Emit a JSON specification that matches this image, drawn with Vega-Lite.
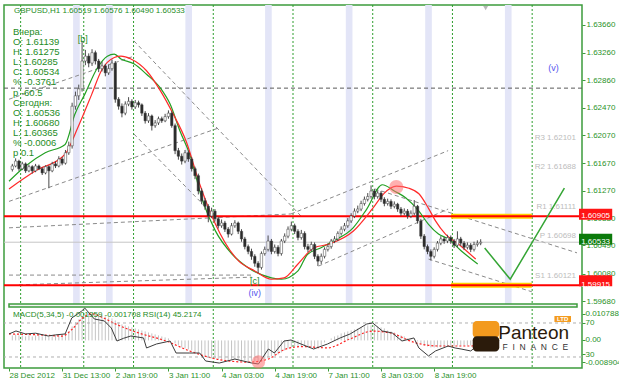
{
"$schema":"https://vega.github.io/schema/vega-lite/v6.json",
"padding":{"left":3,"top":4,"right":0,"bottom":0},
"background":"#ffffff",
"width":578,"height":363,
"datasets":{
"candles":[
{"i":1,"o":1.6158,"h":1.6166,"l":1.6155,"c":1.6163},{"i":2,"o":1.6163,"h":1.6174,"l":1.6161,"c":1.6170},{"i":3,"o":1.6170,"h":1.6172,"l":1.6156,"c":1.6159},{"i":4,"o":1.6159,"h":1.6169,"l":1.6157,"c":1.6166},{"i":5,"o":1.6166,"h":1.6168,"l":1.6153,"c":1.6156},{"i":6,"o":1.6156,"h":1.6165,"l":1.6154,"c":1.6162},{"i":7,"o":1.6162,"h":1.6164,"l":1.6152,"c":1.6156},{"i":8,"o":1.6156,"h":1.6166,"l":1.6154,"c":1.6163},{"i":9,"o":1.6163,"h":1.6165,"l":1.6157,"c":1.6159},{"i":10,"o":1.6159,"h":1.6161,"l":1.6150,"c":1.6153},
{"i":11,"o":1.6153,"h":1.6164,"l":1.6151,"c":1.6162},{"i":12,"o":1.6162,"h":1.6164,"l":1.6131,"c":1.6156},{"i":13,"o":1.6156,"h":1.6169,"l":1.6154,"c":1.6166},{"i":14,"o":1.6166,"h":1.6170,"l":1.6160,"c":1.6163},{"i":15,"o":1.6163,"h":1.6177,"l":1.6161,"c":1.6173},{"i":16,"o":1.6173,"h":1.6176,"l":1.6164,"c":1.6167},{"i":17,"o":1.6167,"h":1.6186,"l":1.6165,"c":1.6182},{"i":18,"o":1.6182,"h":1.6198,"l":1.6179,"c":1.6192},{"i":19,"o":1.6192,"h":1.6254,"l":1.6188,"c":1.6249},{"i":20,"o":1.6249,"h":1.6270,"l":1.6244,"c":1.6264},
{"i":21,"o":1.6264,"h":1.6280,"l":1.6258,"c":1.6274},{"i":22,"o":1.6274,"h":1.6343,"l":1.6270,"c":1.6314},{"i":23,"o":1.6314,"h":1.6330,"l":1.6308,"c":1.6321},{"i":24,"o":1.6321,"h":1.6325,"l":1.6305,"c":1.6311},{"i":25,"o":1.6311,"h":1.6331,"l":1.6307,"c":1.6326},{"i":26,"o":1.6326,"h":1.6329,"l":1.6309,"c":1.6314},{"i":27,"o":1.6314,"h":1.6317,"l":1.6298,"c":1.6303},{"i":28,"o":1.6303,"h":1.6313,"l":1.6299,"c":1.6307},{"i":29,"o":1.6307,"h":1.6310,"l":1.6292,"c":1.6297},{"i":30,"o":1.6297,"h":1.6309,"l":1.6294,"c":1.6303},
{"i":31,"o":1.6303,"h":1.6316,"l":1.6300,"c":1.6311},{"i":32,"o":1.6311,"h":1.6314,"l":1.6254,"c":1.6259},{"i":33,"o":1.6259,"h":1.6262,"l":1.6244,"c":1.6249},{"i":34,"o":1.6249,"h":1.6253,"l":1.6233,"c":1.6239},{"i":35,"o":1.6239,"h":1.6256,"l":1.6236,"c":1.6252},{"i":36,"o":1.6252,"h":1.6262,"l":1.6249,"c":1.6256},{"i":37,"o":1.6256,"h":1.6259,"l":1.6244,"c":1.6248},{"i":38,"o":1.6248,"h":1.6258,"l":1.6245,"c":1.6254},{"i":39,"o":1.6254,"h":1.6257,"l":1.6247,"c":1.6251},{"i":40,"o":1.6251,"h":1.6253,"l":1.6235,"c":1.6239},
{"i":41,"o":1.6239,"h":1.6242,"l":1.6224,"c":1.6228},{"i":42,"o":1.6228,"h":1.6239,"l":1.6225,"c":1.6235},{"i":43,"o":1.6235,"h":1.6237,"l":1.6214,"c":1.6221},{"i":44,"o":1.6221,"h":1.6229,"l":1.6218,"c":1.6225},{"i":45,"o":1.6225,"h":1.6234,"l":1.6222,"c":1.6231},{"i":46,"o":1.6231,"h":1.6234,"l":1.6225,"c":1.6228},{"i":47,"o":1.6228,"h":1.6238,"l":1.6226,"c":1.6234},{"i":48,"o":1.6234,"h":1.6243,"l":1.6231,"c":1.6239},{"i":49,"o":1.6239,"h":1.6242,"l":1.6218,"c":1.6221},{"i":50,"o":1.6221,"h":1.6224,"l":1.6180,"c":1.6185},
{"i":51,"o":1.6185,"h":1.6189,"l":1.6172,"c":1.6177},{"i":52,"o":1.6177,"h":1.6181,"l":1.6165,"c":1.6170},{"i":53,"o":1.6170,"h":1.6186,"l":1.6167,"c":1.6182},{"i":54,"o":1.6182,"h":1.6185,"l":1.6169,"c":1.6173},{"i":55,"o":1.6173,"h":1.6176,"l":1.6155,"c":1.6159},{"i":56,"o":1.6159,"h":1.6162,"l":1.6144,"c":1.6149},{"i":57,"o":1.6149,"h":1.6152,"l":1.6122,"c":1.6127},{"i":58,"o":1.6127,"h":1.6131,"l":1.6108,"c":1.6113},{"i":59,"o":1.6113,"h":1.6117,"l":1.6100,"c":1.6105},{"i":60,"o":1.6105,"h":1.6108,"l":1.6082,"c":1.6091},
{"i":61,"o":1.6091,"h":1.6103,"l":1.6088,"c":1.6098},{"i":62,"o":1.6098,"h":1.6101,"l":1.6083,"c":1.6087},{"i":63,"o":1.6087,"h":1.6090,"l":1.6073,"c":1.6077},{"i":64,"o":1.6077,"h":1.6086,"l":1.6074,"c":1.6081},{"i":65,"o":1.6081,"h":1.6084,"l":1.6068,"c":1.6072},{"i":66,"o":1.6072,"h":1.6075,"l":1.6060,"c":1.6065},{"i":67,"o":1.6065,"h":1.6081,"l":1.6063,"c":1.6077},{"i":68,"o":1.6077,"h":1.6085,"l":1.6074,"c":1.6081},{"i":69,"o":1.6081,"h":1.6083,"l":1.6065,"c":1.6069},{"i":70,"o":1.6069,"h":1.6072,"l":1.6054,"c":1.6058},
{"i":71,"o":1.6058,"h":1.6061,"l":1.6043,"c":1.6047},{"i":72,"o":1.6047,"h":1.6050,"l":1.6036,"c":1.6040},{"i":73,"o":1.6040,"h":1.6044,"l":1.6028,"c":1.6033},{"i":74,"o":1.6033,"h":1.6036,"l":1.6018,"c":1.6023},{"i":75,"o":1.6023,"h":1.6026,"l":1.6009,"c":1.6017},{"i":76,"o":1.6017,"h":1.6040,"l":1.6014,"c":1.6037},{"i":77,"o":1.6037,"h":1.6047,"l":1.6034,"c":1.6043},{"i":78,"o":1.6043,"h":1.6063,"l":1.6040,"c":1.6055},{"i":79,"o":1.6055,"h":1.6058,"l":1.6036,"c":1.6040},{"i":80,"o":1.6040,"h":1.6050,"l":1.6037,"c":1.6046},
{"i":81,"o":1.6046,"h":1.6049,"l":1.6033,"c":1.6037},{"i":82,"o":1.6037,"h":1.6058,"l":1.6034,"c":1.6055},{"i":83,"o":1.6055,"h":1.6066,"l":1.6052,"c":1.6062},{"i":84,"o":1.6062,"h":1.6076,"l":1.6059,"c":1.6072},{"i":85,"o":1.6072,"h":1.6083,"l":1.6069,"c":1.6077},{"i":86,"o":1.6077,"h":1.6080,"l":1.6065,"c":1.6069},{"i":87,"o":1.6069,"h":1.6072,"l":1.6056,"c":1.6060},{"i":88,"o":1.6060,"h":1.6071,"l":1.6057,"c":1.6066},{"i":89,"o":1.6066,"h":1.6069,"l":1.6043,"c":1.6047},{"i":90,"o":1.6047,"h":1.6051,"l":1.6039,"c":1.6043},
{"i":91,"o":1.6043,"h":1.6054,"l":1.6040,"c":1.6050},{"i":92,"o":1.6050,"h":1.6053,"l":1.6029,"c":1.6033},{"i":93,"o":1.6033,"h":1.6036,"l":1.6019,"c":1.6026},{"i":94,"o":1.6026,"h":1.6037,"l":1.6022,"c":1.6033},{"i":95,"o":1.6033,"h":1.6046,"l":1.6030,"c":1.6043},{"i":96,"o":1.6043,"h":1.6051,"l":1.6040,"c":1.6047},{"i":97,"o":1.6047,"h":1.6058,"l":1.6044,"c":1.6055},{"i":98,"o":1.6055,"h":1.6062,"l":1.6052,"c":1.6058},{"i":99,"o":1.6058,"h":1.6069,"l":1.6055,"c":1.6066},{"i":100,"o":1.6066,"h":1.6076,"l":1.6063,"c":1.6072},
{"i":101,"o":1.6072,"h":1.6081,"l":1.6069,"c":1.6077},{"i":102,"o":1.6077,"h":1.6088,"l":1.6074,"c":1.6084},{"i":103,"o":1.6084,"h":1.6095,"l":1.6081,"c":1.6091},{"i":104,"o":1.6091,"h":1.6102,"l":1.6088,"c":1.6098},{"i":105,"o":1.6098,"h":1.6106,"l":1.6095,"c":1.6101},{"i":106,"o":1.6101,"h":1.6113,"l":1.6098,"c":1.6109},{"i":107,"o":1.6109,"h":1.6119,"l":1.6106,"c":1.6115},{"i":108,"o":1.6115,"h":1.6124,"l":1.6112,"c":1.6119},{"i":109,"o":1.6119,"h":1.6135,"l":1.6116,"c":1.6127},{"i":110,"o":1.6127,"h":1.6130,"l":1.6115,"c":1.6119},
{"i":111,"o":1.6119,"h":1.6128,"l":1.6116,"c":1.6124},{"i":112,"o":1.6124,"h":1.6127,"l":1.6111,"c":1.6115},{"i":113,"o":1.6115,"h":1.6118,"l":1.6105,"c":1.6109},{"i":114,"o":1.6109,"h":1.6116,"l":1.6106,"c":1.6112},{"i":115,"o":1.6112,"h":1.6115,"l":1.6101,"c":1.6105},{"i":116,"o":1.6105,"h":1.6112,"l":1.6102,"c":1.6108},{"i":117,"o":1.6108,"h":1.6110,"l":1.6097,"c":1.6101},{"i":118,"o":1.6101,"h":1.6104,"l":1.6091,"c":1.6095},{"i":119,"o":1.6095,"h":1.6102,"l":1.6092,"c":1.6098},{"i":120,"o":1.6098,"h":1.6101,"l":1.6087,"c":1.6091},
{"i":121,"o":1.6091,"h":1.6099,"l":1.6088,"c":1.6095},{"i":122,"o":1.6095,"h":1.6114,"l":1.6092,"c":1.6105},{"i":123,"o":1.6105,"h":1.6107,"l":1.6080,"c":1.6084},{"i":124,"o":1.6084,"h":1.6087,"l":1.6058,"c":1.6062},{"i":125,"o":1.6062,"h":1.6065,"l":1.6043,"c":1.6047},{"i":126,"o":1.6047,"h":1.6050,"l":1.6036,"c":1.6040},{"i":127,"o":1.6040,"h":1.6043,"l":1.6027,"c":1.6033},{"i":128,"o":1.6033,"h":1.6046,"l":1.6030,"c":1.6043},{"i":129,"o":1.6043,"h":1.6055,"l":1.6040,"c":1.6052},{"i":130,"o":1.6052,"h":1.6062,"l":1.6049,"c":1.6058},
{"i":131,"o":1.6058,"h":1.6061,"l":1.6051,"c":1.6055},{"i":132,"o":1.6055,"h":1.6064,"l":1.6052,"c":1.6060},{"i":133,"o":1.6060,"h":1.6063,"l":1.6051,"c":1.6055},{"i":134,"o":1.6055,"h":1.6058,"l":1.6045,"c":1.6049},{"i":135,"o":1.6049,"h":1.6069,"l":1.6046,"c":1.6058},{"i":136,"o":1.6058,"h":1.6061,"l":1.6048,"c":1.6052},{"i":137,"o":1.6052,"h":1.6055,"l":1.6042,"c":1.6046},{"i":138,"o":1.6046,"h":1.6053,"l":1.6043,"c":1.6049},{"i":139,"o":1.6049,"h":1.6052,"l":1.6039,"c":1.6043},{"i":140,"o":1.6043,"h":1.6054,"l":1.6040,"c":1.6050},
{"i":141,"o":1.6050,"h":1.6056,"l":1.6047,"c":1.6052},{"i":142,"o":1.60519,"h":1.60576,"l":1.60490,"c":1.60533}
],
"ma":[
{"s":"f","i":0,"p":1.6141},{"s":"f","i":5,"p":1.6163},{"s":"f","i":10.9,"p":1.6182},{"s":"f","i":16.9,"p":1.6194},{"s":"f","i":19.8,"p":1.6237},{"s":"f","i":22.8,"p":1.6266},{"s":"f","i":26.6,"p":1.6304},{"s":"f","i":29.6,"p":1.6321},{"s":"f","i":31.7,"p":1.6324},{"s":"f","i":33.7,"p":1.6317},{"s":"f","i":37.6,"p":1.6310},{"s":"f","i":41.4,"p":1.6295},{"s":"f","i":45.6,"p":1.6275},{"s":"f","i":48.5,"p":1.6252},{"s":"f","i":51.5,"p":1.6213},{"s":"f","i":54.4,"p":1.6180},{"s":"f","i":58.3,"p":1.6113},{"s":"f","i":62.1,"p":1.6070},{"s":"f","i":67.2,"p":1.6036},{"s":"f","i":72.2,"p":1.6016},{"s":"f","i":79,"p":1.6002},{"s":"f","i":82,"p":1.6000},{"s":"f","i":87,"p":1.6012},{"s":"f","i":89.9,"p":1.6036},{"s":"f","i":93.8,"p":1.6045},{"s":"f","i":97.6,"p":1.6055},{"s":"f","i":103.6,"p":1.6074},{"s":"f","i":107.7,"p":1.6101},{"s":"f","i":112.4,"p":1.6136},{"s":"f","i":116,"p":1.6127},{"s":"f","i":119.5,"p":1.6117},{"s":"f","i":123.4,"p":1.6098},{"s":"f","i":126.3,"p":1.6079},{"s":"f","i":129.3,"p":1.6065},{"s":"f","i":132.2,"p":1.6058},{"s":"f","i":136.1,"p":1.6041},{"s":"f","i":141.1,"p":1.6022},
{"s":"s","i":0,"p":1.6130},{"s":"s","i":8,"p":1.6156},{"s":"s","i":16.9,"p":1.6180},{"s":"s","i":20.7,"p":1.6218},{"s":"s","i":24.9,"p":1.6266},{"s":"s","i":27.8,"p":1.6300},{"s":"s","i":31.7,"p":1.6319},{"s":"s","i":33.7,"p":1.6321},{"s":"s","i":36.7,"p":1.6317},{"s":"s","i":41.4,"p":1.6300},{"s":"s","i":45.6,"p":1.6271},{"s":"s","i":49.4,"p":1.6238},{"s":"s","i":53.3,"p":1.6199},{"s":"s","i":57.4,"p":1.6137},{"s":"s","i":62.1,"p":1.6080},{"s":"s","i":69.2,"p":1.6026},{"s":"s","i":74,"p":1.6012},{"s":"s","i":79,"p":1.6000},{"s":"s","i":82.8,"p":1.6002},{"s":"s","i":87,"p":1.6022},{"s":"s","i":91.7,"p":1.6045},{"s":"s","i":96.7,"p":1.6051},{"s":"s","i":103.6,"p":1.6069},{"s":"s","i":109.5,"p":1.6102},{"s":"s","i":113,"p":1.6124},{"s":"s","i":116.6,"p":1.6134},{"s":"s","i":120.4,"p":1.6131},{"s":"s","i":123.4,"p":1.6123},{"s":"s","i":126.3,"p":1.6102},{"s":"s","i":128.4,"p":1.6084},{"s":"s","i":131.4,"p":1.6065},{"s":"s","i":135.2,"p":1.6051},{"s":"s","i":140.5,"p":1.6029}
],
"trend":[
{"id":1,"i":0,"p":1.6259},{"id":1,"i":37.6,"p":1.6321},
{"id":2,"i":37.6,"p":1.6343},{"id":2,"i":87.9,"p":1.6091},
{"id":3,"i":0,"p":1.6112},{"id":3,"i":62.7,"p":1.6217},
{"id":4,"i":37.6,"p":1.6209},{"id":4,"i":67.2,"p":1.6065},
{"id":5,"i":0,"p":1.6006},{"id":5,"i":73,"p":1.6006},
{"id":6,"i":3,"p":1.5992},{"id":6,"i":73,"p":1.6003},
{"id":7,"i":0,"p":1.6074},{"id":7,"i":84.9,"p":1.6094},
{"id":8,"i":84.9,"p":1.6094},{"id":8,"i":132.2,"p":1.6185},
{"id":9,"i":93.2,"p":1.6019},{"id":9,"i":132.2,"p":1.6101},
{"id":10,"i":110.1,"p":1.6130},{"id":10,"i":171,"p":1.6038},
{"id":11,"i":126.3,"p":1.6029},{"id":11,"i":157.4,"p":1.5982}
],
"proj":[{"i":143.2,"p":1.6045},{"i":150.9,"p":1.6000},{"i":167.2,"p":1.6131}],
"grid":[{"i":3.5},{"i":22.5},{"i":37.5},{"i":61.5},{"i":85.5},{"i":109.5},{"i":133.5},{"i":157.5}],
"bands":[{"a":19.3,"b":21.3},{"a":29.2,"b":31.2},{"a":53.1,"b":55.1},{"a":77.1,"b":79.1},{"a":101.4,"b":103.4},{"a":125.3,"b":127.3},{"a":149.3,"b":151.3}],
"levels":[{"p":1.60905},{"p":1.59915}],
"pivots":[{"t":"R3 1.62101","p":1.62101},{"t":"R2 1.61688","p":1.61688},{"t":"R1 1.61111","p":1.61111},{"t":"P 1.60698","p":1.60698},{"t":"S1 1.60121","p":1.60121}],
"waves":[{"t":"[b]","i":22.2,"p":1.6346,"k":"g"},{"t":"[c]","i":74,"p":1.5998,"k":"g"},{"t":"(iv)","i":74,"p":1.5980,"k":"b"},{"t":"(v)","i":163.9,"p":1.6304,"k":"b"}],
"tags":[{"p":1.60905,"t":"1.60905","k":"r"},{"p":1.60533,"t":"1.60533","k":"g"},{"p":1.59915,"t":"1.59915","k":"r"}],
"macd":[
{"i":1,"m":0.00162},{"i":2,"m":0.00194},{"i":3,"m":0.00162},{"i":4,"m":0.00162},{"i":5,"m":0.00129},{"i":6,"m":0.00162},{"i":7,"m":0.00129},{"i":8,"m":0.00162},{"i":9,"m":0.00162},{"i":10,"m":0.00129},
{"i":11,"m":0.00162},{"i":12,"m":0.00129},{"i":13,"m":0.00162},{"i":14,"m":0.00162},{"i":15,"m":0.00194},{"i":16,"m":0.00194},{"i":17,"m":0.00226},{"i":18,"m":0.00291},{"i":19,"m":0.00452},{"i":20,"m":0.00581},
{"i":21,"m":0.00678},{"i":22,"m":0.00775},{"i":23,"m":0.0084},{"i":24,"m":0.00872},{"i":25,"m":0.00872},{"i":26,"m":0.00872},{"i":27,"m":0.0084},{"i":28,"m":0.00808},{"i":29,"m":0.00775},{"i":30,"m":0.00743},
{"i":31,"m":0.00711},{"i":32,"m":0.00646},{"i":33,"m":0.00581},{"i":34,"m":0.00517},{"i":35,"m":0.00485},{"i":36,"m":0.00452},{"i":37,"m":0.0042},{"i":38,"m":0.00388},{"i":39,"m":0.00355},{"i":40,"m":0.00323},
{"i":41,"m":0.00291},{"i":42,"m":0.00258},{"i":43,"m":0.00226},{"i":44,"m":0.00194},{"i":45,"m":0.00162},{"i":46,"m":0.00129},{"i":47,"m":0.00097},{"i":48,"m":0.00065},{"i":49,"m":0.0},{"i":50,"m":-0.00097},
{"i":51,"m":-0.00162},{"i":52,"m":-0.00226},{"i":53,"m":-0.00258},{"i":54,"m":-0.00291},{"i":55,"m":-0.00323},{"i":56,"m":-0.00388},{"i":57,"m":-0.0042},{"i":58,"m":-0.00485},{"i":59,"m":-0.00517},{"i":60,"m":-0.00549},
{"i":61,"m":-0.00581},{"i":62,"m":-0.00581},{"i":63,"m":-0.00614},{"i":64,"m":-0.00614},{"i":65,"m":-0.00614},{"i":66,"m":-0.00646},{"i":67,"m":-0.00614},{"i":68,"m":-0.00614},{"i":69,"m":-0.00614},{"i":70,"m":-0.00646},
{"i":71,"m":-0.00646},{"i":72,"m":-0.00678},{"i":73,"m":-0.00678},{"i":74,"m":-0.00678},{"i":75,"m":-0.00678},{"i":76,"m":-0.00646},{"i":77,"m":-0.00614},{"i":78,"m":-0.00549},{"i":79,"m":-0.00517},{"i":80,"m":-0.00485},
{"i":81,"m":-0.00452},{"i":82,"m":-0.00388},{"i":83,"m":-0.00323},{"i":84,"m":-0.00258},{"i":85,"m":-0.00226},{"i":86,"m":-0.00194},{"i":87,"m":-0.00194},{"i":88,"m":-0.00194},{"i":89,"m":-0.00194},{"i":90,"m":-0.00226},
{"i":91,"m":-0.00226},{"i":92,"m":-0.00226},{"i":93,"m":-0.00226},{"i":94,"m":-0.00162},{"i":95,"m":-0.00065},{"i":96,"m":0.0},{"i":97,"m":0.00065},{"i":98,"m":0.00129},{"i":99,"m":0.00162},{"i":100,"m":0.00226},
{"i":101,"m":0.00258},{"i":102,"m":0.00291},{"i":103,"m":0.00323},{"i":104,"m":0.00355},{"i":105,"m":0.00388},{"i":106,"m":0.0042},{"i":107,"m":0.00452},{"i":108,"m":0.00485},{"i":109,"m":0.00485},{"i":110,"m":0.00485},
{"i":111,"m":0.00452},{"i":112,"m":0.0042},{"i":113,"m":0.00388},{"i":114,"m":0.00323},{"i":115,"m":0.00291},{"i":116,"m":0.00258},{"i":117,"m":0.00194},{"i":118,"m":0.00162},{"i":119,"m":0.00129},{"i":120,"m":0.00065},
{"i":121,"m":0.00032},{"i":122,"m":0.0},{"i":123,"m":-0.00032},{"i":124,"m":-0.00097},{"i":125,"m":-0.00162},{"i":126,"m":-0.00194},{"i":127,"m":-0.00226},{"i":128,"m":-0.00226},{"i":129,"m":-0.00226},{"i":130,"m":-0.00226},
{"i":131,"m":-0.00194},{"i":132,"m":-0.00194},{"i":133,"m":-0.00194},{"i":134,"m":-0.00194},{"i":135,"m":-0.00162},{"i":136,"m":-0.00162},{"i":137,"m":-0.00162},{"i":138,"m":-0.00162},{"i":139,"m":-0.00162},{"i":140,"m":-0.00162},
{"i":141,"m":-0.00129},{"i":142,"m":-0.001359}
],
"signal":[{"i":0,"s":0.0021},{"i":10.9,"s":0.0017},{"i":16,"s":0.0014},{"i":18.9,"s":0.0035},{"i":21.9,"s":0.0070},{"i":24.9,"s":0.0086},{"i":28,"s":0.0075},{"i":31.7,"s":0.0055},{"i":38.5,"s":0.0026},{"i":47.3,"s":-0.0002},{"i":54.4,"s":-0.0034},{"i":63.3,"s":-0.0062},{"i":72.2,"s":-0.0070},{"i":78.1,"s":-0.0060},{"i":82.8,"s":-0.0030},{"i":87.9,"s":-0.0020},{"i":95.9,"s":-0.0024},{"i":102.7,"s":0.0005},{"i":109.5,"s":0.0030},{"i":114.5,"s":0.0025},{"i":122.5,"s":-0.0008},{"i":129.3,"s":-0.0018},{"i":139,"s":-0.0018},{"i":141.7,"s":-0.0017}],
"rsi":[{"i":0,"r":57.1},{"i":2.1,"r":60.6},{"i":5,"r":57.1},{"i":8,"r":58},{"i":11.8,"r":54.7},{"i":14,"r":56},{"i":16.9,"r":57.1},{"i":18.9,"r":75.9},{"i":21.9,"r":84.1},{"i":22.8,"r":87.6},{"i":25.7,"r":74.7},{"i":28.7,"r":72.4},{"i":30.8,"r":64.1},{"i":32.5,"r":48.8},{"i":34.5,"r":52},{"i":36.7,"r":54.7},{"i":40.5,"r":52.4},{"i":41.4,"r":40.6},{"i":44.4,"r":45.3},{"i":48.5,"r":48.8},{"i":50.3,"r":34.7},{"i":54.4,"r":34.7},{"i":57.4,"r":34.7},{"i":59.2,"r":25.3},{"i":63.3,"r":22.9},{"i":68,"r":27.6},{"i":73.1,"r":22.9},{"i":75.1,"r":21.8},{"i":78.1,"r":39.4},{"i":79.9,"r":34.7},{"i":82.8,"r":48.8},{"i":84.9,"r":50},{"i":87.9,"r":45.3},{"i":91.7,"r":39.4},{"i":95.9,"r":45.3},{"i":99.7,"r":52.4},{"i":102.7,"r":57.1},{"i":107.7,"r":68.8},{"i":109.5,"r":70},{"i":112.4,"r":60.6},{"i":115.4,"r":58.2},{"i":118.3,"r":48.8},{"i":121.9,"r":52.4},{"i":123.4,"r":40.6},{"i":126.3,"r":31.2},{"i":128.4,"r":37.1},{"i":132.2,"r":42.9},{"i":134.3,"r":40.6},{"i":136.1,"r":39.4},{"i":139,"r":37.1},{"i":141.7,"r":45.2}],
"rsilev":[{"v":70},{"v":30}]
},
"resolve":{"scale":{"y":"independent"}},
"layer":[
{"data":{"name":"bands"},"mark":{"type":"rect","color":"#e3e5f7"},"encoding":{"x":{"field":"a","type":"quantitative","title":null,"scale":{"domain":[0,171]}},"x2":{"field":"b"},"y":{"datum":1.63946,"type":"quantitative","scale":{"domain":[1.59644,1.63946],"range":[299,0]},"axis":null},"y2":{"datum":1.59644}}},
{"data":{"name":"grid"},"mark":{"type":"rule","color":"#2e9e2e","strokeDash":[2,2],"strokeWidth":1},"encoding":{"x":{"field":"i","type":"quantitative","title":null,"scale":{"domain":[0,171]},"axis":{"title":null,"values":[0,16,32,48,64,80,96,112,128],"labelExpr":"['28 Dec 2012','31 Dec 13:00','2 Jan 19:00','3 Jan 11:00','4 Jan 03:00','4 Jan 19:00','7 Jan 11:00','8 Jan 03:00','8 Jan 19:00'][round(datum.value/16)]","labelAlign":"left","labelFlush":false,"labelOverlap":false,"tickSize":3,"labelPadding":0,"domain":false,"grid":false,"labelColor":"#2a922a","tickColor":"#3c9c3c","labelFontSize":8}}}},
{"data":{"values":[{}]},"mark":{"type":"rule","color":"#5a5a5a","strokeDash":[4,3],"strokeWidth":1},"encoding":{"y":{"datum":1.6275,"type":"quantitative","scale":{"domain":[1.59644,1.63946],"range":[299,0]},"axis":null}}},
{"data":{"name":"trend"},"mark":{"type":"line","color":"#8a8a8a","strokeDash":[4,3],"strokeWidth":1},"encoding":{"x":{"field":"i","type":"quantitative","title":null,"scale":{"domain":[0,171]}},"y":{"field":"p","type":"quantitative","scale":{"domain":[1.59644,1.63946],"range":[299,0]},"axis":null},"detail":{"field":"id","type":"nominal"}}},
{"data":{"values":[{}]},"mark":{"type":"rule","color":"#c6c6c6","strokeWidth":1},"encoding":{"y":{"datum":1.60533,"type":"quantitative","scale":{"domain":[1.59644,1.63946],"range":[299,0]},"axis":null}}},
{"data":{"name":"levels"},"mark":{"type":"rule","color":"#ffd200","strokeWidth":5},"encoding":{"x":{"datum":133.1,"type":"quantitative","title":null,"scale":{"domain":[0,171]}},"x2":{"datum":157.4},"y":{"field":"p","type":"quantitative","scale":{"domain":[1.59644,1.63946],"range":[299,0]},"axis":null}}},
{"data":{"name":"levels"},"mark":{"type":"rule","color":"#ff0000","strokeWidth":2},"encoding":{"y":{"field":"p","type":"quantitative","scale":{"domain":[1.59644,1.63946],"range":[299,0]},"axis":null}}},
{"data":{"name":"pivots"},"mark":{"type":"text","align":"right","baseline":"top","fontSize":8,"color":"#bdbdbd","dy":1},"encoding":{"x":{"datum":170.7,"type":"quantitative","title":null,"scale":{"domain":[0,171]}},"y":{"field":"p","type":"quantitative","scale":{"domain":[1.59644,1.63946],"range":[299,0]},"axis":null},"text":{"field":"t"}}},
{"data":{"name":"ma"},"mark":{"type":"line","strokeWidth":1.2,"interpolate":"monotone"},"encoding":{"x":{"field":"i","type":"quantitative","title":null,"scale":{"domain":[0,171]}},"y":{"field":"p","type":"quantitative","scale":{"domain":[1.59644,1.63946],"range":[299,0]},"axis":null},"color":{"field":"s","type":"nominal","scale":{"domain":["f","s"],"range":["#22a022","#ff2a2a"]},"legend":null}}},
{"data":{"name":"candles"},"mark":{"type":"rule","color":"#4a4a4a","strokeWidth":1},"encoding":{"x":{"field":"i","type":"quantitative","title":null,"scale":{"domain":[0,171]}},"y":{"field":"l","type":"quantitative","scale":{"domain":[1.59644,1.63946],"range":[299,0]},"axis":{"orient":"right","title":null,"values":[1.6366,1.6326,1.6286,1.6247,1.6207,1.6167,1.6127,1.6088,1.6049,1.6008,1.5968],"format":".5f","tickSize":3,"labelPadding":1,"labelColor":"#2a922a","tickColor":"#3c9c3c","domain":false,"grid":false,"labelFontSize":8,"labelOverlap":false,"zindex":0}},"y2":{"field":"h"}}},
{"data":{"name":"candles"},"mark":{"type":"bar","size":2.4,"stroke":"#3a3a3a","strokeWidth":0.5},"encoding":{"x":{"field":"i","type":"quantitative","title":null,"scale":{"domain":[0,171]}},"y":{"field":"o","type":"quantitative","scale":{"domain":[1.59644,1.63946],"range":[299,0]},"axis":null},"y2":{"field":"c"},"fill":{"condition":{"test":"datum.c >= datum.o","value":"#ffffff"},"value":"#2b2b2b"}}},
{"data":{"values":[{}]},"mark":{"type":"point","filled":true,"size":200,"color":"#ff7070","opacity":0.55},"encoding":{"x":{"datum":116.6,"type":"quantitative","title":null,"scale":{"domain":[0,171]}},"y":{"datum":1.61328,"type":"quantitative","scale":{"domain":[1.59644,1.63946],"range":[299,0]},"axis":null}}},
{"data":{"name":"proj"},"mark":{"type":"line","color":"#35a535","strokeWidth":1.5},"encoding":{"x":{"field":"i","type":"quantitative","title":null,"scale":{"domain":[0,171]}},"y":{"field":"p","type":"quantitative","scale":{"domain":[1.59644,1.63946],"range":[299,0]},"axis":null}}},
{"data":{"name":"waves"},"mark":{"type":"text","fontSize":9,"align":"center","baseline":"middle"},"encoding":{"x":{"field":"i","type":"quantitative","title":null,"scale":{"domain":[0,171]}},"y":{"field":"p","type":"quantitative","scale":{"domain":[1.59644,1.63946],"range":[299,0]},"axis":null},"text":{"field":"t"},"color":{"condition":{"test":"datum.k == 'b'","value":"#5555ee"},"value":"#1e8c1e"}}},
{"data":{"values":[{}]},"mark":{"type":"text","text":"GBPUSD,H1  1.60519 1.60576 1.60490 1.60533","align":"left","baseline":"middle","fontSize":8,"color":"#1e8c1e"},"encoding":{"x":{"datum":1.5,"type":"quantitative","title":null,"scale":{"domain":[0,171]}},"y":{"datum":1.63853,"type":"quantitative","scale":{"domain":[1.59644,1.63946],"range":[299,0]},"axis":null}}},
{"data":{"values":[{}]},"mark":{"type":"text","text":["Вчера:","O: 1.61139","H: 1.61275","L: 1.60285","C: 1.60534","% -0.3761","p -60.5"," ","Сегодня:","O: 1.60536","H: 1.60680","L: 1.60365","% -0.0006","p 0.1"],"lineHeight":10.1,"align":"left","baseline":"top","fontSize":9.5,"color":"#1e8c1e"},"encoding":{"x":{"datum":1.2,"type":"quantitative","title":null,"scale":{"domain":[0,171]}},"y":{"datum":1.63630,"type":"quantitative","scale":{"domain":[1.59644,1.63946],"range":[299,0]},"axis":null}}},
{"data":{"name":"tags"},"mark":{"type":"bar","size":11},"encoding":{"x":{"datum":171.6,"type":"quantitative","title":null,"scale":{"domain":[0,171]}},"x2":{"datum":181.6},"y":{"field":"p","type":"quantitative","scale":{"domain":[1.59644,1.63946],"range":[299,0]},"axis":null},"color":{"condition":{"test":"datum.k == 'g'","value":"#0b7a0b"},"value":"#ff1414"}}},
{"data":{"name":"tags"},"mark":{"type":"text","color":"#ffffff","fontSize":8,"align":"center","baseline":"middle"},"encoding":{"x":{"datum":176.6,"type":"quantitative","title":null,"scale":{"domain":[0,171]}},"y":{"field":"p","type":"quantitative","scale":{"domain":[1.59644,1.63946],"range":[299,0]},"axis":null},"text":{"field":"t"}}},
{"data":{"values":[{}]},"mark":{"type":"point","shape":"triangle-down","filled":true,"size":24,"color":"#9a9a9a"},"encoding":{"x":{"datum":143.5,"type":"quantitative","title":null,"scale":{"domain":[0,171]}},"y":{"datum":1.63900,"type":"quantitative","scale":{"domain":[1.59644,1.63946],"range":[299,0]},"axis":null}}},
{"data":{"values":[{}]},"mark":{"type":"rect","fill":"#f4f4f4","stroke":"#3c9c3c","strokeWidth":1.5},"encoding":{"x":{"datum":0,"type":"quantitative","title":null,"scale":{"domain":[0,171]}},"x2":{"datum":171},"y":{"datum":1.59644,"type":"quantitative","scale":{"domain":[1.59644,1.63946],"range":[299,0]},"axis":null},"y2":{"datum":1.59601}}},
{"data":{"name":"macd"},"mark":{"type":"rule","color":"#c4c4c4","strokeWidth":1},"encoding":{"x":{"field":"i","type":"quantitative","title":null,"scale":{"domain":[0,171]}},"y":{"field":"m","type":"quantitative","scale":{"domain":[-0.008904,0.010788],"range":[363,302]},"axis":null},"y2":{"datum":0}}},
{"data":{"name":"signal"},"mark":{"type":"line","color":"#ff2020","strokeDash":[2,2],"strokeWidth":1.2,"interpolate":"monotone"},"encoding":{"x":{"field":"i","type":"quantitative","title":null,"scale":{"domain":[0,171]}},"y":{"field":"s","type":"quantitative","scale":{"domain":[-0.008904,0.010788],"range":[363,302]},"axis":null}}},
{"data":{"name":"rsilev"},"mark":{"type":"rule","color":"#b0b0b0","strokeDash":[3,3],"strokeWidth":1},"encoding":{"y":{"field":"v","type":"quantitative","scale":{"domain":[17.06,88.8],"range":[363,302]},"axis":null}}},
{"data":{"name":"rsi"},"mark":{"type":"line","color":"#3c3c3c","strokeWidth":1},"encoding":{"x":{"field":"i","type":"quantitative","title":null,"scale":{"domain":[0,171]}},"y":{"field":"r","type":"quantitative","scale":{"domain":[17.06,88.8],"range":[363,302]},"axis":{"orient":"right","title":null,"values":[80.6,70,50,33.5,24.1],"labelExpr":"datum.value > 80 ? '0.010788' : datum.value == 70 ? '70' : datum.value == 50 ? '0.00' : datum.value > 30 ? '30' : '-0.008904'","tickSize":3,"labelPadding":0,"labelColor":"#2a922a","tickColor":"#3c9c3c","domain":false,"grid":false,"labelFontSize":8,"labelOverlap":false}}}},
{"data":{"values":[{}]},"mark":{"type":"point","filled":true,"size":180,"color":"#ff7070","opacity":0.55},"encoding":{"x":{"datum":75.1,"type":"quantitative","title":null,"scale":{"domain":[0,171]}},"y":{"datum":24.1,"type":"quantitative","scale":{"domain":[17.06,88.8],"range":[363,302]},"axis":null}}},
{"data":{"values":[{}]},"mark":{"type":"text","text":"MACD(5,34,5) -0.001359 -0.001708  RSI(14) 45.2174","align":"left","baseline":"middle","fontSize":8,"color":"#1e8c1e"},"encoding":{"x":{"datum":1.2,"type":"quantitative","title":null,"scale":{"domain":[0,171]}},"y":{"datum":79.4,"type":"quantitative","scale":{"domain":[17.06,88.8],"range":[363,302]},"axis":null}}},
{"data":{"values":[{}]},"mark":{"type":"rect","color":"#f39a1e","cornerRadius":4},"encoding":{"x":{"datum":139.6,"type":"quantitative","title":null,"scale":{"domain":[0,171]}},"x2":{"datum":147.6},"y":{"datum":72.4,"type":"quantitative","scale":{"domain":[17.06,88.8],"range":[363,302]},"axis":null},"y2":{"datum":52.4}}},
{"data":{"values":[{}]},"mark":{"type":"rect","color":"#2b1b0b","cornerRadius":4},"encoding":{"x":{"datum":139.6,"type":"quantitative","title":null,"scale":{"domain":[0,171]}},"x2":{"datum":147.6},"y":{"datum":54.5,"type":"quantitative","scale":{"domain":[17.06,88.8],"range":[363,302]},"axis":null},"y2":{"datum":36.5}}},
{"data":{"values":[{}]},"mark":{"type":"text","text":"Panteon","align":"left","baseline":"middle","fontSize":19,"color":"#2b1b0b"},"encoding":{"x":{"datum":147.3,"type":"quantitative","title":null,"scale":{"domain":[0,171]}},"y":{"datum":57.8,"type":"quantitative","scale":{"domain":[17.06,88.8],"range":[363,302]},"axis":null}}},
{"data":{"values":[{}]},"mark":{"type":"text","text":"F\u00a0\u00a0I\u00a0\u00a0N\u00a0\u00a0A\u00a0\u00a0N\u00a0\u00a0C\u00a0\u00a0E","align":"left","baseline":"middle","fontSize":8.5,"color":"#333333"},"encoding":{"x":{"datum":148.6,"type":"quantitative","title":null,"scale":{"domain":[0,171]}},"y":{"datum":41.8,"type":"quantitative","scale":{"domain":[17.06,88.8],"range":[363,302]},"axis":null}}},
{"data":{"values":[{}]},"mark":{"type":"rect","color":"#f39a1e"},"encoding":{"x":{"datum":164.2,"type":"quantitative","title":null,"scale":{"domain":[0,171]}},"x2":{"datum":169.2},"y":{"datum":78.2,"type":"quantitative","scale":{"domain":[17.06,88.8],"range":[363,302]},"axis":null},"y2":{"datum":71.2}}},
{"data":{"values":[{}]},"mark":{"type":"text","text":"LTD","align":"center","baseline":"middle","fontSize":6,"fontWeight":"bold","color":"#ffffff"},"encoding":{"x":{"datum":166.7,"type":"quantitative","title":null,"scale":{"domain":[0,171]}},"y":{"datum":74.7,"type":"quantitative","scale":{"domain":[17.06,88.8],"range":[363,302]},"axis":null}}}
],
"config":{"font":"Liberation Sans","view":{"stroke":"#3c9c3c","strokeWidth":1.5},"axis":{"labelFont":"Liberation Sans","labelOverlap":false},"text":{"font":"Liberation Sans"}}
}
